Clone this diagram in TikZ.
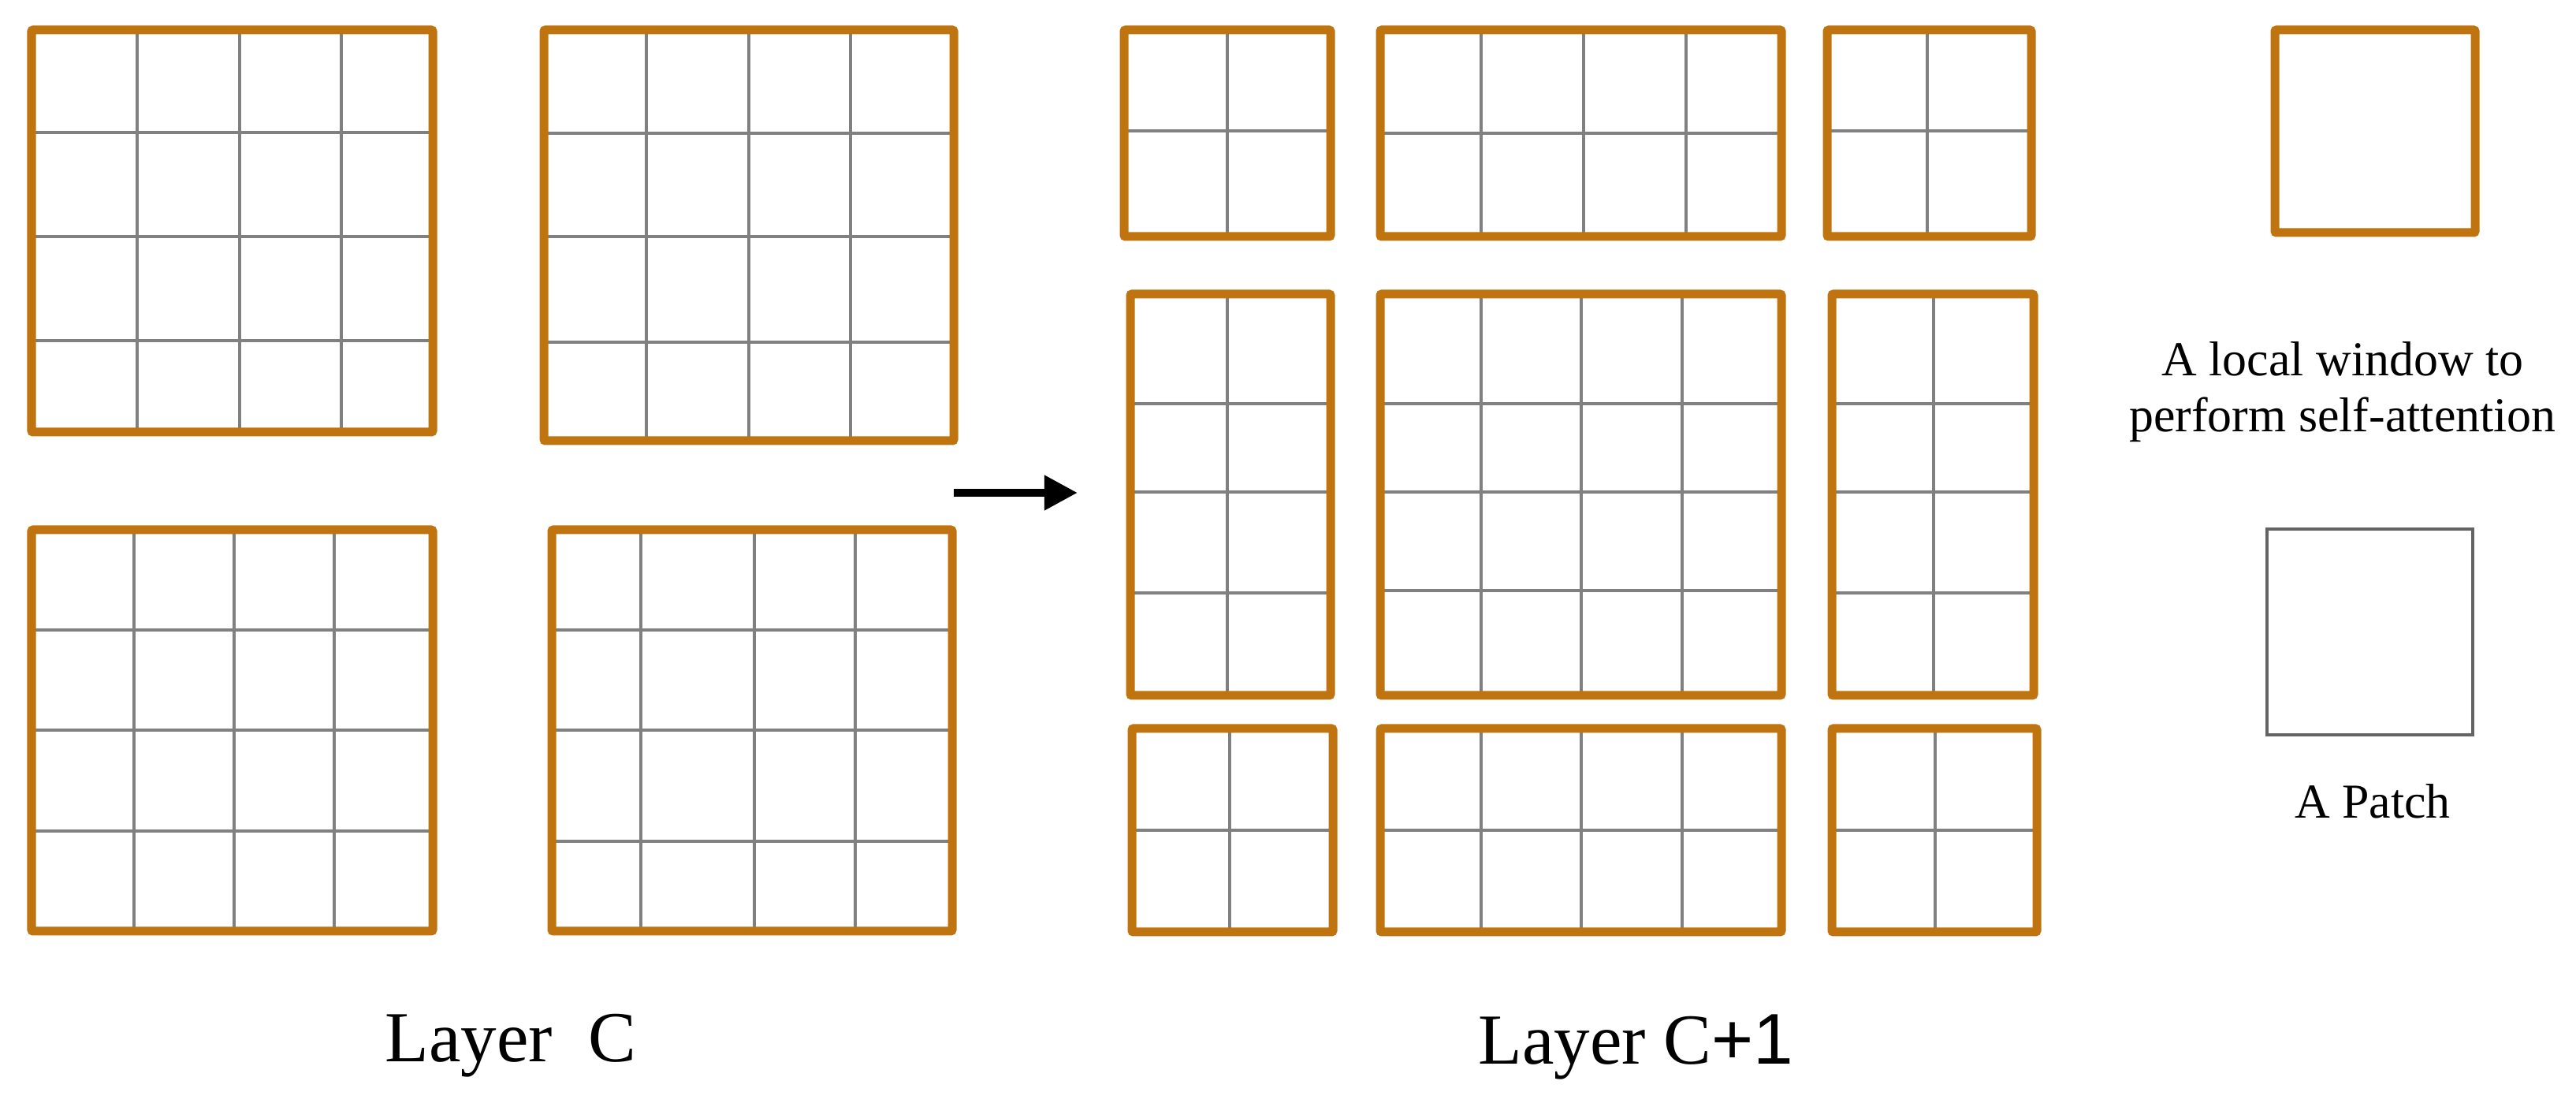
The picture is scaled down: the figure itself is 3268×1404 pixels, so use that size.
\documentclass[tikz,border=0pt]{standalone}
\usepackage{fontspec}
\setmainfont{Liberation Serif}
\setsansfont{Liberation Sans}
\usetikzlibrary{fit,arrows.meta}
\definecolor{winorange}{RGB}{192,116,16}
\definecolor{gridgray}{RGB}{128,128,128}
\definecolor{patchgray}{RGB}{100,100,100}
\tikzset{
  gridline/.style={draw=gridgray, line width=0.045cm},
  win/.style={draw=winorange, line width=0.11cm, rounded corners=0.02cm, inner sep=0pt, outer sep=0pt},
  patchbox/.style={draw=patchgray, line width=0.045cm, inner sep=0pt, outer sep=0pt},
  legendtext/.style={font=\fontsize{17.6pt}{20pt}\selectfont, inner sep=0pt},
  layertext/.style={font=\fontsize{25.9pt}{30pt}\selectfont, inner sep=0pt},
  flowarrow/.style={draw=black, line width=0.1cm, -{Triangle[length=0.42cm,width=0.42cm]}}
}
\newcommand\winbox[7]{%
  \foreach \vx in {#6}{\draw[gridline] (\vx,#3) -- (\vx,#5);}%
  \foreach \hy in {#7}{\draw[gridline] (#2,\hy) -- (#4,\hy);}%
  \node[win, fit={(#2,#3) (#4,#5)}] (#1) {};%
}
\begin{document}
\begin{tikzpicture}[x=0.01cm,y=-0.01cm]
\fill[white] (0,0) rectangle (3268,1404);
\useasboundingbox (0,0) rectangle (3268,1404);

% Layer C
\winbox{cTL}{40}{38}{549}{548}{174,304,433}{168,300,432}
\winbox{cTR}{690}{38}{1210}{559}{820,950,1079}{169,300,434}
\winbox{cBL}{40}{672}{549}{1181}{170,297,424}{799,926,1054}
\winbox{cBR}{700}{672}{1208}{1181}{813,957,1085}{799,926,1067}

% Layer C+1
\winbox{a1}{1426}{38}{1688}{300}{1557}{166}
\winbox{b1}{1751}{38}{2260}{300}{1879,2009,2139}{169}
\winbox{c1}{2318}{38}{2577}{300}{2445}{166}
\winbox{a2}{1434}{373}{1688}{882}{1557}{512,624,752}
\winbox{b2}{1751}{373}{2260}{882}{1879,2006,2134}{512,624,749}
\winbox{c2}{2324}{373}{2580}{882}{2453}{512,624,752}
\winbox{a3}{1436}{924}{1691}{1182}{1560}{1053}
\winbox{b3}{1751}{924}{2260}{1182}{1879,2006,2134}{1053}
\winbox{c3}{2324}{924}{2584}{1182}{2455}{1053}

% arrow
\coordinate (arrS) at (1210,625);
\coordinate (arrE) at (1367,625);
\draw[flowarrow] (arrS) -- (arrE);

% legend
\node[win, fit={(2886,38) (3140,295)}] (lgwin) {};
\node[legendtext, anchor=base] (lg1) at (2972,477) {A local window to};
\node[legendtext, anchor=base] (lg2) at (2972,548) {perform self-attention};
\node[patchbox, fit={(2876,671) (3137,932)}] (lgpatch) {};
\node[legendtext, anchor=base] (lg3) at (3010,1038) {A Patch};

% layer labels
\node[layertext, anchor=base west] (labC) at (488,1347) {Layer\ \ C};
\node[layertext, anchor=base west] (labC1) at (1875,1350) {Layer C{\sffamily +1}};
\end{tikzpicture}
\end{document}
